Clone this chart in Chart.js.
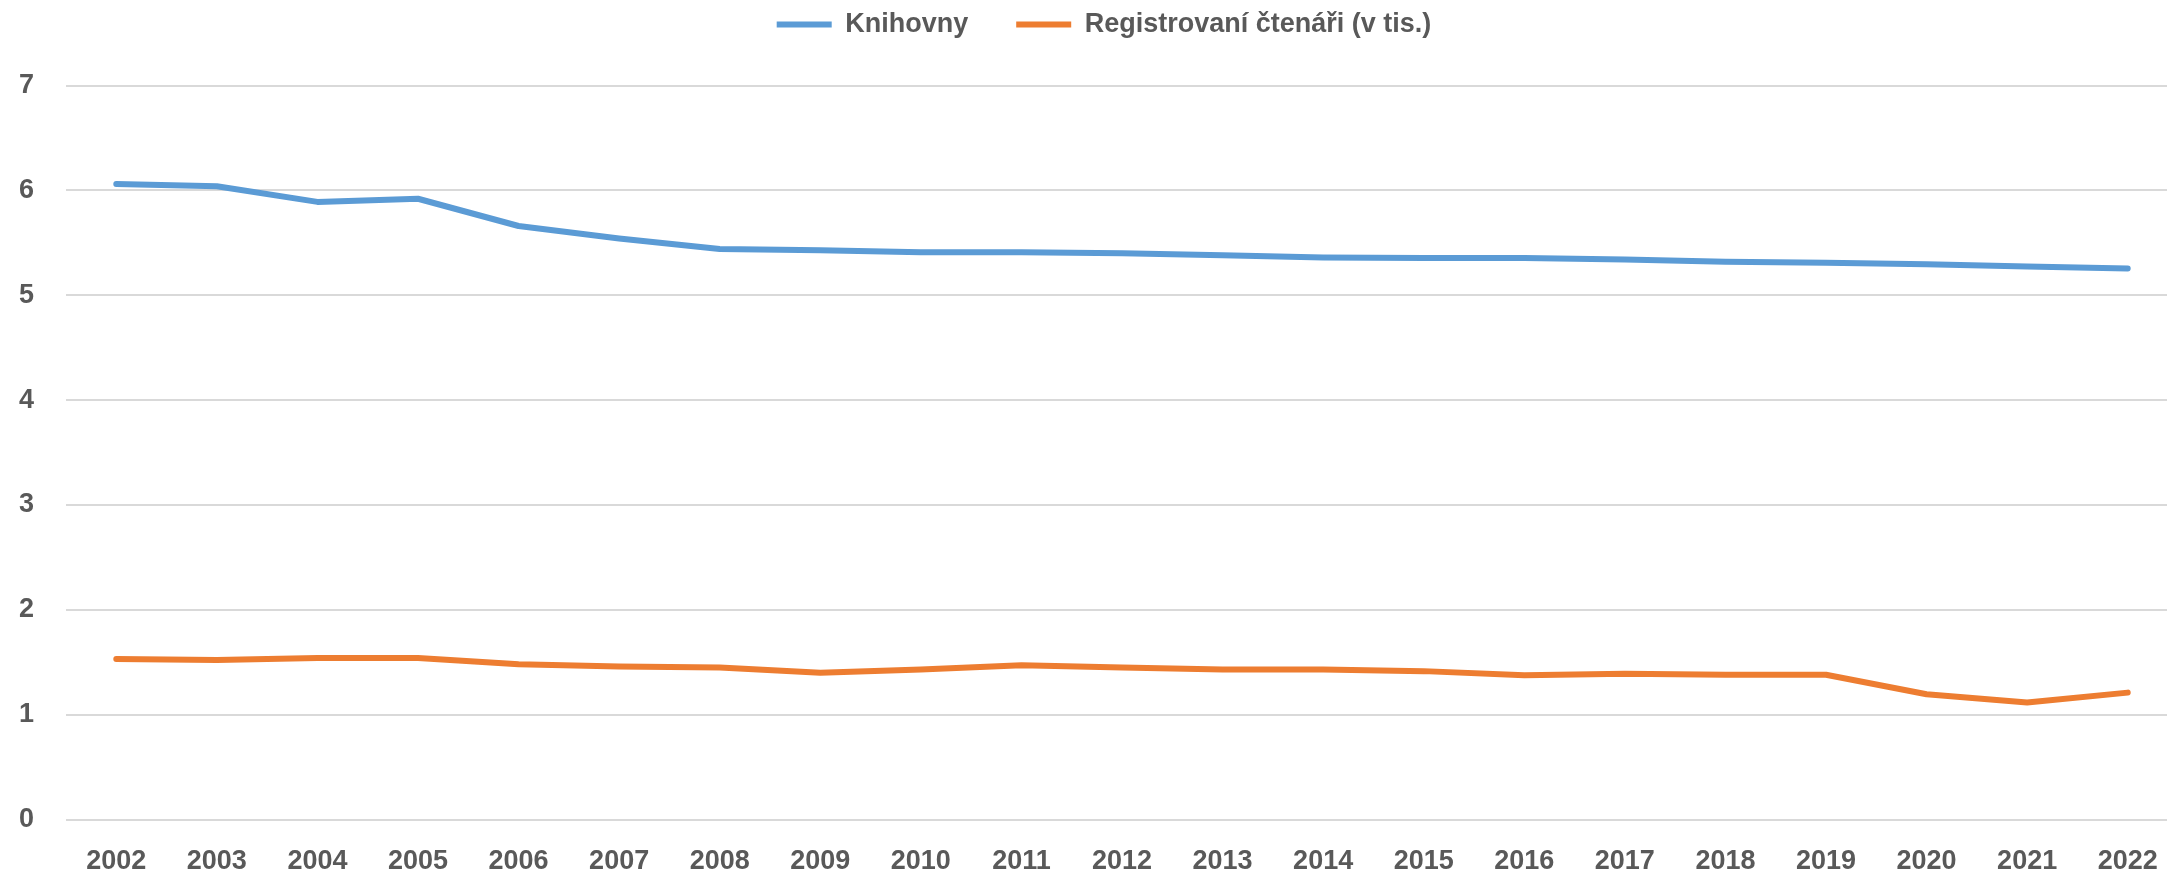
<!DOCTYPE html>
<html>
<head>
<meta charset="utf-8">
<script src="https://cdn.jsdelivr.net/npm/chart.js@4.4.0/dist/chart.umd.min.js"></script>
<style>
  html, body { margin: 0; padding: 0; background: #fff; overflow: hidden; }
</style>
</head>
<body>
<canvas id="libChart" width="2178" height="875"></canvas>
<script>
// years on the category axis
const years = ['2002', '2003', '2004', '2005', '2006', '2007', '2008', '2009', '2010', '2011',
  '2012', '2013', '2014', '2015', '2016', '2017', '2018', '2019', '2020', '2021', '2022'];
// number of libraries (thousands)
const knihovny = [6.06, 6.04, 5.89, 5.92, 5.66, 5.54, 5.44, 5.43, 5.41, 5.41,
  5.40, 5.38, 5.36, 5.355, 5.355, 5.34, 5.32, 5.31, 5.295, 5.275, 5.255];
// registered readers (v tis.)
const ctenari = [1.53, 1.52, 1.54, 1.54, 1.48, 1.46, 1.45, 1.40, 1.43, 1.47,
  1.45, 1.43, 1.43, 1.415, 1.375, 1.39, 1.38, 1.38, 1.195, 1.115, 1.21];
const yMin = 0, yMax = 7, yStep = 1;

const TEXT = '#595959';
Chart.defaults.font.family = '"Liberation Sans", Arial, sans-serif';
Chart.defaults.font.weight = 'bold';
Chart.defaults.font.size = 27;
Chart.defaults.color = TEXT;

// legend padding is big (for the gap between items), so adjust the plot top by hand
// and nudge the legend a little to the right, like the original
const legendGap = {
  id: 'legendGap',
  beforeInit(chart) {
    const fit = chart.legend.fit;
    chart.legend.fit = function () { fit.call(this); this.height += 37.5; };
  },
  beforeDraw(chart) {
    chart.legend.left = 30;
  }
};

const lineStyle = { borderWidth: 6, pointRadius: 0, tension: 0, borderCapStyle: 'round', borderJoinStyle: 'round', fill: false };

new Chart(document.getElementById('libChart').getContext('2d'), {
  type: 'line',
  data: {
    labels: years,
    datasets: [
      { label: 'Knihovny', data: knihovny, borderColor: '#5B9BD5', backgroundColor: '#5B9BD5', ...lineStyle },
      { label: 'Registrovaní čtenáři (v tis.)', data: ctenari, borderColor: '#ED7D31', backgroundColor: '#ED7D31', ...lineStyle }
    ]
  },
  options: {
    responsive: false,
    animation: false,
    layout: { padding: { top: -37, left: 0, right: 0, bottom: 0 } },
    plugins: {
      legend: {
        display: true,
        position: 'top',
        labels: { usePointStyle: true, pointStyle: 'line', pointStyleWidth: 55, padding: 48, color: TEXT }
      },
      tooltip: { enabled: false }
    },
    scales: {
      x: {
        offset: true,
        grid: { display: false },
        border: { display: false },
        ticks: { padding: 18, maxRotation: 0, autoSkip: false },
        afterFit: (s) => { s.height = 55.5; }
      },
      y: {
        min: yMin,
        max: yMax,
        ticks: { stepSize: yStep, padding: 32, crossAlign: 'center' },
        grid: { color: '#D9D9D9', lineWidth: 2, drawTicks: false },
        border: { display: false },
        afterFit: (s) => { s.width = 66; }
      }
    }
  },
  plugins: [legendGap]
});
</script>
</body>
</html>
